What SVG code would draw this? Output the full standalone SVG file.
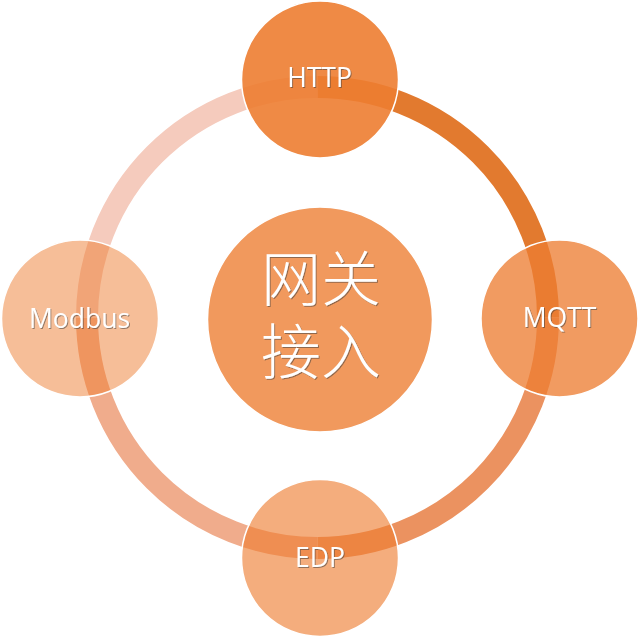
<svg xmlns="http://www.w3.org/2000/svg" width="640" height="639" viewBox="0 0 640 639">
  <defs>
    <filter id="shadow" x="-20%" y="-20%" width="140%" height="140%">
      <feDropShadow dx="1" dy="1" stdDeviation="0.4" flood-color="#404040" flood-opacity="0.55"/>
    </filter>
  </defs>
  <style>
    .arc { fill: none; stroke-width: 22; stroke-linecap: butt; }
    .node circle { fill: #ED7D31; stroke: #FFFFFF; stroke-width: 1.5; }
    .lbl { font-family: "Open Sans", "Liberation Sans", sans-serif; font-size: 26.5px; fill: #FFFFFF; text-anchor: middle; filter: url(#shadow); }
    .cjk { font-family: "Noto Sans CJK SC", "Noto Sans", sans-serif; font-size: 60px; font-weight: 300; fill: #FFFFFF; text-anchor: middle; filter: url(#shadow); }
  </style>
  <rect width="640" height="639" fill="#FFFFFF"/>
  <g id="connectors">
    <path class="arc" stroke="#E27A2F" d="M 317.5 87 A 230.5 230.5 0 0 1 548 317.5"/>
    <path class="arc" stroke="#EB9260" d="M 548 317.5 A 230.5 230.5 0 0 1 317.5 548"/>
    <path class="arc" stroke="#F0AC8C" d="M 317.5 548 A 230.5 230.5 0 0 1 87 317.5"/>
    <path class="arc" stroke="#F5CBBD" d="M 87 317.5 A 230.5 230.5 0 0 1 317.5 87"/>
  </g>
  <g id="node-center" class="node">
    <circle cx="320" cy="319.5" r="112.5" fill-opacity="0.79"/>
    <text class="cjk"><tspan x="321" y="301">网关</tspan><tspan x="321" y="374">接入</tspan></text>
  </g>
  <g id="node-http" class="node">
    <circle cx="320" cy="79.5" r="78.5" fill-opacity="0.9"/>
    <text class="lbl" x="319.5" y="87">HTTP</text>
  </g>
  <g id="node-mqtt" class="node">
    <circle cx="559.5" cy="318.5" r="78.5" fill-opacity="0.77"/>
    <text class="lbl" x="559.5" y="327">MQTT</text>
  </g>
  <g id="node-edp" class="node">
    <circle cx="320" cy="558" r="78.5" fill-opacity="0.63"/>
    <text class="lbl" x="320" y="567">EDP</text>
  </g>
  <g id="node-modbus" class="node">
    <circle cx="80" cy="318.5" r="78.5" fill-opacity="0.5"/>
    <text class="lbl" x="79.5" y="328">Modbus</text>
  </g>
</svg>
